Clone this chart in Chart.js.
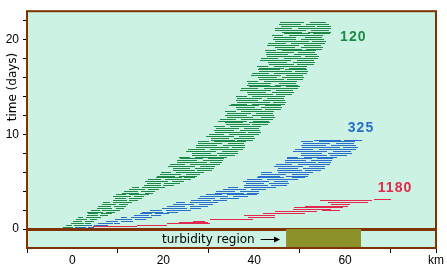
<!DOCTYPE html>
<html>
<head>
<meta charset="utf-8">
<script src="https://cdn.jsdelivr.net/npm/chart.js@4"></script>
<style>
html, body { margin: 0; padding: 0; background: #ffffff; }
#wrap { width: 447px; height: 272px; }
</style>
</head>
<body>
<div id="wrap"><canvas id="dispersionChart"></canvas></div>
<script>
/* ===========================================
   DATA
=========================================== */

// grain size classes (label of each band)
const classNames = ["120", "325", "1180"];

// green band (120): time in days, start / end of each excursion in km
const greenTime = [
    0.2, 0.4, 0.6, 0.8, 1.0, 1.2, 1.4, 1.6, 1.8, 2.0,
    2.2, 2.4, 2.6, 2.8, 3.0, 3.2, 3.4, 3.6, 3.8, 4.0,
    4.2, 4.4, 4.6, 4.8, 5.0, 5.2, 5.4, 5.6, 5.8, 6.0,
    6.2, 6.4, 6.6, 6.8, 7.0, 7.2, 7.4, 7.6, 7.8, 8.0,
    8.2, 8.4, 8.6, 8.8, 9.0, 9.2, 9.4, 9.6, 9.8, 10.0,
    10.2, 10.4, 10.6, 10.8, 11.0, 11.2, 11.4, 11.6, 11.8, 12.0,
    12.2, 12.4, 12.6, 12.8, 13.0, 13.2, 13.4, 13.6, 13.8, 14.0,
    14.2, 14.4, 14.6, 14.8, 15.0, 15.2, 15.4, 15.6, 15.8, 16.0,
    16.2, 16.4, 16.6, 16.8, 17.0, 17.2, 17.4, 17.6, 17.8, 18.0,
    18.2, 18.4, 18.6, 18.8, 19.0, 19.2, 19.4, 19.6, 19.8, 20.0,
    20.2, 20.4, 20.6, 20.8, 21.0, 21.2, 21.4, 21.6, 21.8
];
const greenFrom = [
    -2, 0.4, -0.3, 2.7, 0.8, 2.9, 3.1, 6.3, 3.3, 6.6,
    5.4, 9.1, 6.4, 8.9, 8.9, 12.5, 8.9, 12.5, 11.0, 15.1,
    12.4, 15.4, 15.7, 20.2, 16, 20.4, 18.4, 23.5, 19.3, 22.7,
    22.1, 26.9, 21, 25.9, 23.1, 28.7, 23.6, 27, 26.4, 31.7,
    25, 30.3, 27.2, 33.1, 27.6, 31.1, 30.5, 35.6, 29.4, 34.4,
    31.4, 36.8, 31.5, 34.6, 33.8, 38.8, 32.1, 37.1, 33.9, 39.6,
    33.9, 37.2, 36.3, 41.4, 34.5, 39.6, 36.3, 42, 36.3, 39.6,
    38.7, 43.9, 36.9, 42.2, 38.8, 44.6, 38.7, 42.1, 41.1, 46.2,
    39.3, 44.4, 41.1, 46.8, 41.1, 44.3, 43.3, 48.5, 41.3, 46.5,
    42.9, 48.8, 42.7, 46.1, 45, 50.2, 42.9, 48.1, 44.6, 50.4,
    44.3, 47.7, 46.6, 51.8, 44.5, 49.6, 45.9, 51.5, 45.6
];
const greenTo = [
    0.2, 3.0, 2.6, 4.7, 3.3, 6.3, 5.7, 8.7, 6.8, 10.5,
    8.7, 11.8, 9.5, 13.0, 12.1, 15.3, 12.9, 16.9, 14.7, 18.1,
    15.9, 20.3, 19.5, 23.7, 21, 26, 24.1, 27.5, 23.9, 29,
    26.9, 31.2, 26.9, 32.4, 29.7, 33.1, 28.7, 33.9, 31.7, 36.5,
    31.6, 37.5, 34.4, 37.9, 33, 38.2, 35.7, 40.2, 35.6, 41,
    38.1, 41.2, 36.6, 41.5, 39, 43.4, 38.5, 44.2, 39.8, 44.4,
    39.3, 44.4, 41.7, 46.2, 41.1, 46.8, 43.5, 46.8, 41.7, 46.8,
    44.2, 48.8, 43.7, 49.6, 46, 49.6, 43.6, 49.4, 46.6, 51,
    45.9, 51.6, 48.3, 51.6, 46.5, 51.6, 48.8, 53.4, 48.1, 54,
    50.2, 53.8, 48.7, 53.6, 50.6, 55.2, 49.8, 55.6, 52.1, 55.4,
    49.3, 55.2, 52.2, 56.8, 51.4, 57, 53.3, 56.4, 51
];
// second, shorter excursion on the same days
const greenFrom2 = [
    0.6, -1.4, 2.8, 0.2, 3.8, 1.2, 6.0, 3.5, 7.4, 4,
    9.6, 5.7, 10.2, 6.8, 12.4, 9.3, 13.6, 9.6, 15.9, 11.4,
    16.7, 13, 19.9, 16.3, 21.9, 16.7, 24.6, 18.6, 24.9, 19.5,
    27.4, 22.1, 28, 21.5, 30.3, 23.1, 29.8, 23.5, 32.3, 26.3,
    32.8, 25.5, 35, 27.1, 34.2, 27.6, 36.3, 30.5, 36.7, 30,
    38.6, 31.2, 37.7, 31.2, 39.6, 33.5, 39.7, 32.4, 41.6, 33.6,
    40.5, 33.6, 42.3, 36, 42.3, 34.8, 44.1, 36, 42.9, 36,
    44.8, 38.4, 44.9, 37.2, 46.9, 38.4, 45.5, 38.4, 47.2, 40.8,
    47.1, 39.6, 48.9, 40.8, 47.7, 40.7, 49.4, 43, 49.4, 41.5,
    51.1, 42.5, 49.6, 42.3, 51.3, 44.6, 51, 43.1, 52.7, 44.1,
    51.2, 43.9, 52.9, 46.2, 52.6, 44.6, 53.9, 45.4, 52.2
];
const greenTo2 = [
    1.8, -0.1, 4.0, 2.2, 5.5, 2.3, 7.8, 5.7, 9.3, 6.0,
    11.3, 8.4, 12.2, 8.2, 14.5, 11.8, 15.7, 11.8, 17.7, 14.4,
    19.0, 14.6, 22.4, 19.4, 24.6, 19.5, 27, 22.6, 28, 21.6,
    30.6, 25.9, 31.3, 24.8, 33, 27.5, 33.3, 25.8, 35.8, 30.5,
    36.4, 29.1, 38, 31.9, 37.8, 30, 39.8, 34.5, 40.0, 33.3,
    41.4, 35.6, 41.1, 33.5, 43, 37.6, 43.2, 35.9, 44.6, 38.4,
    44.1, 36, 45.9, 40.2, 45.9, 38.4, 47.1, 40.8, 46.5, 38.4,
    48.4, 42.7, 48.6, 40.9, 50, 43.4, 49.2, 40.8, 50.8, 45,
    50.7, 43.2, 51.9, 45.6, 51.3, 43.1, 53.1, 47.3, 53.1, 45.3,
    54.2, 47.5, 53.4, 44.8, 55, 49, 54.8, 46.9, 55.8, 49.1,
    55, 46.4, 56.6, 50.6, 56.4, 48.3, 57, 50.3, 55.8
];

// blue band (325)
const blueTime = [
    0.2, 0.4, 0.6, 0.8, 1.0, 1.2, 1.4, 1.6, 1.8, 2.0,
    2.2, 2.4, 2.6, 2.8, 3.0, 3.2, 3.4, 3.6, 3.8, 4.0,
    4.2, 4.4, 4.6, 4.8, 5.0, 5.2, 5.4, 5.6, 5.8, 6.0,
    6.2, 6.4, 6.6, 6.8, 7.0, 7.2, 7.4, 7.6, 7.8, 8.0,
    8.2, 8.4, 8.6, 8.8, 9.0, 9.2, 9.4
];
const blueFrom = [
    0.5, 4.8, 5.6, 10.7, 9.4, 12.9, 13.6, 18.2, 15.4, 20.6,
    19.6, 25.8, 22.1, 25.9, 26, 32.4, 28, 33.9, 31.3, 36.8,
    33.2, 37.7, 37.8, 43.2, 37.5, 42.9, 40.7, 47, 41.5, 45.3,
    45, 50.8, 44.3, 49.6, 46.7, 52.5, 47.3, 51, 50.3, 56.2,
    48.6, 54.3, 50.6, 57, 50.7, 54.3, 53.1
];
const blueTo = [
    3.0, 7.8, 8.9, 13.4, 13, 17.4, 16.9, 21.2, 19.9, 26,
    25.3, 29.9, 26.8, 32, 30.5, 36.6, 34.2, 40.7, 37.8, 41,
    38.2, 44.7, 43.1, 47.6, 43.3, 49.6, 46.5, 51.8, 47.1, 53,
    50.5, 55.6, 50.8, 56.6, 53.6, 57.2, 52.7, 58.3, 56.1, 61.5,
    56, 62.5, 58.8, 62.4, 56.7, 62.2, 59.1
];
const blueFrom2 = [
    3.4, 2.75, 9.1, 7.3, 13.8, 10.6, 17.2, 14.9, 20.7, 17,
    25.8, 20.7, 27.8, 22.8, 31, 27.6, 35.3, 29.4, 38.4, 31.5,
    39.3, 34.2, 43.7, 38.2, 44.3, 38.5, 48.3, 40.9, 48.3, 41.5,
    51.1, 45.3, 52.0, 44.9, 54.1, 46.7, 53.8, 47.3, 56.7, 50.3,
    57.3, 48.9, 59.5, 50.3, 58, 50.3, 59.7
];
const blueTo2 = [
    4.8, 4.3, 10.5, 10.0, 16.2, 12.1, 19.4, 17.5, 23.2, 19.7,
    28.2, 24.8, 31, 24.8, 34, 31.3, 38.6, 32.8, 41.1, 35.7,
    42.6, 36.5, 47.2, 42.1, 47.5, 41.8, 51.2, 45.7, 52, 44,
    54.8, 49.6, 55.6, 48.4, 57, 51.4, 57.4, 49.7, 60.5, 54.9,
    61.3, 53, 62.9, 55.7, 62, 52.9, 63.7
];

// red band (1180)
const redTime = [0.28, 0.4, 0.55, 0.68, 0.8, 0.98, 1.2, 1.45, 1.65, 1.82, 2.0, 2.08, 2.3, 2.42, 2.63, 2.84, 2.98, 3.13];
const redFrom = [4.5, 14.2, 20.8, 23.5, 26.5, 30.3, 38.6, 37.8, 42.0, 44.6, 55.0, 48.5, 48.8, 51.2, 57.0, 56.2, 54.5, 66.4];
const redTo   = [14.2, 20.8, 30.3, 29.8, 29.2, 39.7, 44.6, 44.6, 51.2, 53.8, 58.9, 57.0, 59.5, 60.6, 61.0, 65.0, 66.0, 70.0];

// turbidity region along the river, km
const turbidityKm = [47, 63.5];

// axis ticks
const xLabelKm = [0, 20, 40, 60];
const yLabelDays = [0, 10, 20];

/* ===========================================
   STYLE
=========================================== */

const BROWN = "#7f3300";
const PANEL = "#ccf2e4";
const OLIVE = "#8b9229";
const bandColors = ["#1f8a47", "#2a6ecb", "#e2284c"];

// where the band names sit (km, days)
const namePos = [
    { x: 58.9, t: 20.3 },
    { x: 60.6, t: 10.7 },
    { x: 67.2, t: 4.3 }
];

/* ===========================================
   HELPERS
=========================================== */

function segments(times, from, to) {
    const pts = [];
    times.forEach((t, i) => {
        pts.push({ x: from[i], y: t });
        pts.push({ x: to[i], y: t });
        pts.push({ x: to[i], y: null });
    });
    return pts;
}

function band(times, from, to, color) {
    return {
        data: segments(times, from, to),
        showLine: true,
        spanGaps: false,
        borderColor: color,
        borderWidth: 1,
        pointRadius: 0,
        fill: false,
        snap: true
    };
}

/* ===========================================
   DECORATION PLUGIN
=========================================== */

const decorPlugin = {
    id: "decor",
    afterDatasetsUpdate(chart) {
        // put the 1px excursion lines on whole pixels so they stay crisp
        chart.data.datasets.forEach((ds, i) => {
            if (!ds.snap) return;
            chart.getDatasetMeta(i).data.forEach(p => {
                if (Number.isFinite(p.y)) p.y = Math.round(p.y - 0.5) + 0.5;
                if (Number.isFinite(p.x)) p.x = Math.round(p.x);
            });
        });
    },
    beforeDraw(chart) {
        const { ctx, chartArea: a } = chart;
        ctx.save();
        ctx.fillStyle = PANEL;
        ctx.fillRect(a.left, a.top, a.right - a.left, a.bottom - a.top);
        ctx.restore();
    },
    afterDraw(chart) {
        const { ctx, chartArea: a, scales } = chart;
        const xs = scales.x, ys = scales.y;
        ctx.save();

        // frame
        ctx.strokeStyle = BROWN;
        ctx.lineWidth = 2;
        ctx.strokeRect(a.left, a.top, a.right - a.left, a.bottom - a.top);

        // band names
        ctx.font = "bold 14px 'Liberation Sans'";
        ctx.letterSpacing = "1px";
        ctx.textBaseline = "middle";
        ctx.textAlign = "left";
        classNames.forEach((name, i) => {
            ctx.fillStyle = bandColors[i];
            ctx.fillText(name, xs.getPixelForValue(namePos[i].x), ys.getPixelForValue(namePos[i].t));
        });
        ctx.letterSpacing = "0px";

        // turbidity label and arrow
        ctx.fillStyle = "#000000";
        ctx.font = "12px 'DejaVu Sans'";
        ctx.textBaseline = "alphabetic";
        const tx = xs.getPixelForValue(19.7);
        const ty = ys.getPixelForValue(0) + 14;
        ctx.fillText("turbidity region", tx, ty);
        const ax0 = tx + ctx.measureText("turbidity region").width + 6;
        const ax1 = xs.getPixelForValue(turbidityKm[0]) - 6;
        const ay = Math.round(ty - 4);
        ctx.strokeStyle = "#000000";
        ctx.lineWidth = 1;
        ctx.beginPath();
        ctx.moveTo(ax0, ay + 0.5);
        ctx.lineTo(ax1 - 4, ay + 0.5);
        ctx.stroke();
        ctx.beginPath();
        ctx.moveTo(ax1, ay + 0.5);
        ctx.lineTo(ax1 - 6, ay - 2.5);
        ctx.lineTo(ax1 - 6, ay + 3.5);
        ctx.closePath();
        ctx.fill();

        // y title
        ctx.translate(12.5, 87);
        ctx.rotate(-Math.PI / 2);
        ctx.textAlign = "center";
        ctx.textBaseline = "middle";
        ctx.fillText("time (days)", 0, 0);

        ctx.restore();
    }
};

/* ===========================================
   CHART
=========================================== */

const dispersionChart = new Chart(
    document.getElementById("dispersionChart"),
    {
        type: "scatter",
        data: {
            datasets: [
                band(redTime, redFrom, redTo, bandColors[2]),
                band(blueTime, blueFrom, blueTo, bandColors[1]),
                band(blueTime, blueFrom2, blueTo2, bandColors[1]),
                band(greenTime, greenFrom, greenTo, bandColors[0]),
                band(greenTime, greenFrom2, greenTo2, bandColors[0]),
                {
                    data: turbidityKm.map(k => ({ x: k, y: 0 })),
                    showLine: true,
                    borderWidth: 0,
                    borderColor: OLIVE,
                    backgroundColor: OLIVE,
                    pointRadius: 0,
                    fill: { value: -2 }
                }
            ]
        },
        options: {
            responsive: true,
            maintainAspectRatio: false,
            animation: false,
            devicePixelRatio: 1,
            layout: { padding: { top: 11, right: 11, left: 0, bottom: 0 } },
            plugins: {
                legend: { display: false },
                tooltip: { enabled: false }
            },
            scales: {
                x: {
                    type: "linear",
                    min: -10,
                    max: 80,
                    afterFit(scale) { scale.height = 24; },
                    border: { display: false },
                    grid: {
                        drawOnChartArea: false,
                        tickLength: 5,
                        tickColor: c => (xLabelKm.includes(c.tick.value) ? "rgba(0,0,0,0)" : "#000000")
                    },
                    ticks: {
                        stepSize: 10,
                        autoSkip: false,
                        maxRotation: 0,
                        padding: 0,
                        color: "#000000",
                        font: { family: "'Liberation Sans'", size: 12 },
                        callback: v => (v === 80 ? "km" : (xLabelKm.includes(v) ? String(v) : ""))
                    }
                },
                y: {
                    type: "linear",
                    min: -2,
                    max: 23,
                    afterFit(scale) { scale.width = 27; },
                    border: { display: false },
                    grid: {
                        drawOnChartArea: true,
                        color: c => (c.tick && c.tick.value === 0 ? BROWN : "rgba(0,0,0,0)"),
                        lineWidth: c => (c.tick && c.tick.value === 0 ? 3 : 1),
                        tickLength: 4,
                        tickWidth: 1,
                        tickColor: c => (c.tick.value < 0 ? "rgba(0,0,0,0)" : "#000000")
                    },
                    ticks: {
                        stepSize: 2,
                        includeBounds: false,
                        autoSkip: false,
                        padding: 4,
                        color: "#000000",
                        font: { family: "'Liberation Sans'", size: 12 },
                        callback: v => (yLabelDays.includes(v) ? String(v) : "")
                    }
                }
            }
        },
        plugins: [decorPlugin]
    }
);
</script>
</body>
</html>
